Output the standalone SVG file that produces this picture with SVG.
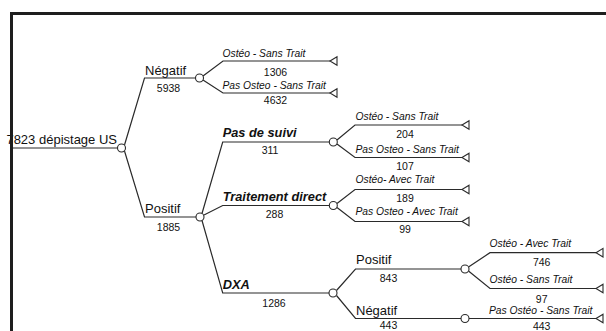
<svg xmlns="http://www.w3.org/2000/svg" width="606" height="331" viewBox="0 0 606 331">
<style>
.c{fill:none;stroke:#2a2a2a;stroke-width:1.2}
.n{fill:#fff;stroke:#2a2a2a;stroke-width:1.1}
.t{fill:#fff;stroke:#2a2a2a;stroke-width:1.1;stroke-linejoin:miter}
text{font-family:"Liberation Sans",Arial,sans-serif;fill:#111}
.big{font-size:13px}
.bi{font-size:12.8px;font-weight:bold;font-style:italic}
.it{font-size:10.3px;font-style:italic}
.num{font-size:10.5px;text-anchor:middle}
</style>
<defs>
<path id="tri" class="t" d="M0,0 L7,-4.3 L7,4.3 Z"/>
</defs>
<rect x="0" y="0" width="606" height="331" fill="#fff"/>
<g id="connectors">
<path class="c" d="M11,148 H117.5"/>
<path class="c" d="M124.5,145 L144.5,78 H195.5"/>
<path class="c" d="M124.5,151 L144.5,217 H196"/>
<path class="c" d="M203,76 L223,61 H330"/>
<path class="c" d="M203,80 L223,93 H330"/>
<path class="c" d="M202,213.5 L222.7,142 H329.5"/>
<path class="c" d="M204,215 L222.7,205.5 H329.5"/>
<path class="c" d="M202,220.5 L222.7,293 H329"/>
<path class="c" d="M337,140 L355,125 H462"/>
<path class="c" d="M337,144 L355,157.5 H462"/>
<path class="c" d="M337,203.5 L355,189.5 H462"/>
<path class="c" d="M337,207.5 L355,221.5 H462"/>
<path class="c" d="M336.5,290.5 L355.5,269 H461"/>
<path class="c" d="M336.5,295.5 L355.5,318.5 H461"/>
<path class="c" d="M468.5,267 L490,252.7 H596"/>
<path class="c" d="M468.5,271 L490,288.5 H596"/>
<path class="c" d="M469,318.5 H596"/>
</g>
<g id="root">
<text class="big" x="117" y="144" text-anchor="end">7823 dépistage US</text>
<circle class="n" cx="121.5" cy="148" r="4"/>
</g>
<g id="negatif">
<text class="big" x="145" y="75">Négatif</text>
<text class="num" x="168.5" y="92">5938</text>
<circle class="n" cx="199.5" cy="78" r="4"/>
</g>
<g id="neg-osteo">
<text class="it" x="222.5" y="57">Ostéo - Sans Trait</text>
<text class="num" x="275.5" y="76">1306</text>
<use href="#tri" x="330" y="61"/>
</g>
<g id="neg-pasosteo">
<text class="it" x="222.5" y="89">Pas Osteo - Sans Trait</text>
<text class="num" x="275.5" y="104">4632</text>
<use href="#tri" x="330" y="93"/>
</g>
<g id="positif">
<text class="big" x="145" y="213">Positif</text>
<text class="num" x="168.5" y="231">1885</text>
<circle class="n" cx="200" cy="217" r="4"/>
</g>
<g id="pas-de-suivi">
<text class="bi" x="222.7" y="137">Pas de suivi</text>
<text class="num" x="270" y="154">311</text>
<circle class="n" cx="333.3" cy="142" r="4"/>
</g>
<g id="pds-osteo">
<text class="it" x="355.5" y="120">Ostéo - Sans Trait</text>
<text class="num" x="405" y="138">204</text>
<use href="#tri" x="462" y="125"/>
</g>
<g id="pds-pasosteo">
<text class="it" x="355.5" y="153">Pas Osteo - Sans Trait</text>
<text class="num" x="405" y="170">107</text>
<use href="#tri" x="462" y="157.5"/>
</g>
<g id="traitement-direct">
<text class="bi" x="222.7" y="201">Traitement direct</text>
<text class="num" x="274.5" y="218">288</text>
<circle class="n" cx="333.3" cy="205.5" r="4"/>
</g>
<g id="td-osteo">
<text class="it" x="355.5" y="183">Ostéo- Avec Trait</text>
<text class="num" x="405" y="201.5">189</text>
<use href="#tri" x="462" y="189.5"/>
</g>
<g id="td-pasosteo">
<text class="it" x="355.5" y="215">Pas Osteo - Avec Trait</text>
<text class="num" x="405" y="232.5">99</text>
<use href="#tri" x="462" y="221.5"/>
</g>
<g id="dxa">
<text class="bi" x="222.7" y="289">DXA</text>
<text class="num" x="274" y="306.5">1286</text>
<circle class="n" cx="333" cy="293" r="4"/>
</g>
<g id="dxa-positif">
<text class="big" x="356" y="264">Positif</text>
<text class="num" x="388.5" y="281.5">843</text>
<circle class="n" cx="465" cy="269" r="4"/>
</g>
<g id="dxa-pos-osteo-avec">
<text class="it" x="489.5" y="246.5">Ostéo - Avec Trait</text>
<text class="num" x="541.7" y="265.5">746</text>
<use href="#tri" x="596" y="252.7"/>
</g>
<g id="dxa-pos-osteo-sans">
<text class="it" x="489.5" y="282.5">Ostéo - Sans Trait</text>
<text class="num" x="541.7" y="302.5">97</text>
<use href="#tri" x="596" y="288.5"/>
</g>
<g id="dxa-negatif">
<text class="big" x="356" y="315">Négatif</text>
<text class="num" x="388.5" y="329">443</text>
<circle class="n" cx="465" cy="318.5" r="4"/>
</g>
<g id="dxa-neg-pasosteo">
<text class="it" x="489" y="313.5">Pas Ostéo - Sans Trait</text>
<text class="num" x="541.7" y="330">443</text>
<use href="#tri" x="596" y="318.5"/>
</g>
<g id="frame">
<path d="M11.5,331 V13.5 H606" fill="none" stroke="#1e1e1e" stroke-width="3"/>
</g>
</svg>
